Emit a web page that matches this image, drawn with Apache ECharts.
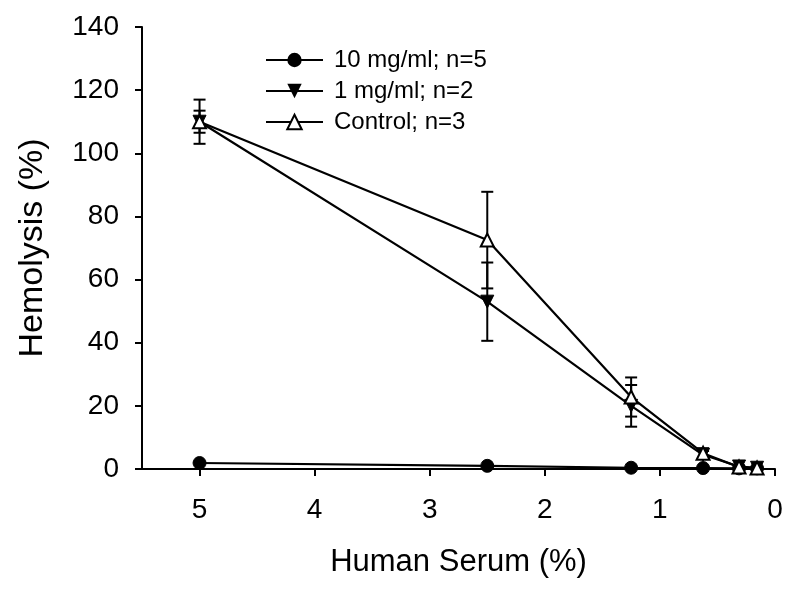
<!DOCTYPE html>
<html>
<head>
<meta charset="utf-8">
<script src="https://cdn.jsdelivr.net/npm/echarts@6/dist/echarts.min.js"></script>
<style>html,body{margin:0;padding:0;background:#fff}#c{width:800px;height:590px}</style>
</head>
<body>
<div id="c"></div>
<script>
// Data
const serum = [5, 2.5, 1.25, 0.625, 0.3125, 0.156];
const mg10 = [1.9, 1.0, 0.4, 0.3, 0.2, 0.2];
const mg1 = [110, 53, 20, 4.5, 0.8, 0.4];
const mg1Err = [3.5, 12.4, 6.6, 1.2, 0.3, 0.2];
const control = [110, 72.5, 22.8, 5, 0.6, 0.3];
const controlErr = [7, 15.3, 6.2, 1.6, 0.3, 0.2];
const xTicks = [0, 1, 2, 3, 4, 5];
const names = ['10 mg/ml; n=5', '1 mg/ml; n=2', 'Control; n=3'];

const FONT = '"Liberation Sans", Arial, sans-serif';
const pairs = (ys) => serum.map((x, i) => [x, ys[i]]);
const errData = (ys, es) => serum.map((x, i) => [x, ys[i] - es[i], ys[i] + es[i]]);

function renderErr(params, api) {
  const x = api.value(0);
  const lo = api.coord([x, api.value(1)]);
  const hi = api.coord([x, api.value(2)]);
  const hw = 6;
  const style = { stroke: '#000', lineWidth: 2 };
  return {
    type: 'group',
    children: [
      { type: 'line', shape: { x1: lo[0], y1: lo[1], x2: hi[0], y2: hi[1] }, style },
      { type: 'line', shape: { x1: lo[0] - hw, y1: lo[1], x2: lo[0] + hw, y2: lo[1] }, style },
      { type: 'line', shape: { x1: hi[0] - hw, y1: hi[1], x2: hi[0] + hw, y2: hi[1] }, style }
    ]
  };
}

const chart = echarts.init(document.getElementById('c'), null, { renderer: 'canvas' });
chart.setOption({
  animation: false,
  backgroundColor: '#fff',
  textStyle: { fontFamily: FONT, color: '#000' },
  grid: { left: 142, right: 25, top: 27, bottom: 121, containLabel: false },
  legend: {
    orient: 'vertical',
    left: 260,
    top: 43,
    itemWidth: 57,
    itemHeight: 18,
    itemGap: 7,
    data: names,
    textStyle: { fontFamily: FONT, fontSize: 24, color: '#000', lineHeight: 24, padding: [0, 0, 0, 6] }
  },
  xAxis: {
    type: 'value',
    inverse: true,
    min: 0,
    max: 5.5,
    interval: 1,
    splitLine: { show: false },
    axisLine: { onZero: false, lineStyle: { color: '#000', width: 2 } },
    axisTick: { length: 7, lineStyle: { color: '#000', width: 2 }, customValues: xTicks },
    axisLabel: { fontSize: 28, color: '#000', margin: 27, fontFamily: FONT, customValues: xTicks },
    name: 'Human Serum (%)',
    nameLocation: 'middle',
    nameGap: 78,
    nameTextStyle: { fontSize: 31, color: '#000', fontFamily: FONT }
  },
  yAxis: {
    type: 'value',
    position: 'left',
    min: 0,
    max: 140,
    interval: 20,
    splitLine: { show: false },
    axisLine: { show: true, onZero: false, lineStyle: { color: '#000', width: 2 } },
    axisTick: { show: true, length: 7, lineStyle: { color: '#000', width: 2 } },
    axisLabel: { fontSize: 28, color: '#000', margin: 23, fontFamily: FONT },
    name: 'Hemolysis (%)',
    nameLocation: 'middle',
    nameGap: 92,
    nameTextStyle: { fontSize: 34, color: '#000', fontFamily: FONT }
  },
  series: [
    { type: 'custom', name: 'err1', renderItem: renderErr, data: errData(mg1, mg1Err), z: 1, silent: true },
    { type: 'custom', name: 'errC', renderItem: renderErr, data: errData(control, controlErr), z: 1, silent: true },
    {
      type: 'line', name: names[0], data: pairs(mg10), z: 3,
      symbol: 'circle', symbolSize: 13,
      lineStyle: { color: '#000', width: 2.2 },
      itemStyle: { color: '#000', borderColor: '#000' }
    },
    {
      type: 'line', name: names[1], data: pairs(mg1), z: 3,
      symbol: 'triangle', symbolRotate: 180, symbolSize: 13,
      lineStyle: { color: '#000', width: 2.2 },
      itemStyle: { color: '#000', borderColor: '#000' }
    },
    {
      type: 'line', name: names[2], data: pairs(control), z: 4,
      symbol: 'triangle', symbolSize: 13,
      lineStyle: { color: '#000', width: 2.2 },
      itemStyle: { color: '#fff', borderColor: '#000', borderWidth: 2 }
    }
  ]
});
</script>
</body>
</html>
